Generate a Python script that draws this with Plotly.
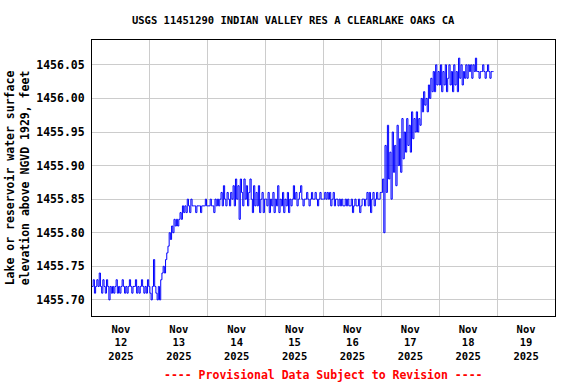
import pandas as pd
import plotly.graph_objects as go

# Gage height (lake elevation, ft above NGVD 1929), 30-minute readings, per day
nov12 = [1455.72, 1455.73, 1455.71, 1455.72, 1455.73, 1455.72, 1455.74, 1455.72, 1455.71, 1455.73, 1455.72, 1455.71,
         1455.73, 1455.72, 1455.70, 1455.72, 1455.71, 1455.72, 1455.71, 1455.72, 1455.73, 1455.71, 1455.72, 1455.71,
         1455.72, 1455.73, 1455.72, 1455.71, 1455.72, 1455.71, 1455.72, 1455.73, 1455.72, 1455.71, 1455.72, 1455.72,
         1455.73, 1455.71, 1455.72, 1455.71, 1455.72, 1455.73, 1455.72, 1455.71, 1455.72, 1455.71, 1455.73, 1455.72]
nov13 = [1455.71, 1455.70, 1455.72, 1455.76, 1455.72, 1455.71, 1455.70, 1455.72, 1455.70, 1455.73, 1455.74, 1455.75,
         1455.74, 1455.76, 1455.77, 1455.78, 1455.80, 1455.79, 1455.81, 1455.80, 1455.82, 1455.81, 1455.82, 1455.81,
         1455.82, 1455.83, 1455.82, 1455.84, 1455.83, 1455.84, 1455.83, 1455.85, 1455.84, 1455.83, 1455.85, 1455.84,
         1455.84, 1455.84, 1455.83, 1455.84, 1455.84, 1455.84, 1455.83, 1455.84, 1455.84, 1455.84, 1455.85, 1455.84]
nov14 = [1455.84, 1455.84, 1455.85, 1455.84, 1455.84, 1455.83, 1455.85, 1455.84, 1455.85, 1455.84, 1455.85, 1455.86,
         1455.84, 1455.87, 1455.85, 1455.84, 1455.86, 1455.85, 1455.84, 1455.86, 1455.85, 1455.87, 1455.84, 1455.88,
         1455.85, 1455.87, 1455.82, 1455.88, 1455.86, 1455.84, 1455.88, 1455.85, 1455.87, 1455.84, 1455.86, 1455.88,
         1455.85, 1455.83, 1455.87, 1455.84, 1455.86, 1455.84, 1455.87, 1455.83, 1455.85, 1455.86, 1455.83, 1455.85]
nov15 = [1455.85, 1455.84, 1455.86, 1455.83, 1455.85, 1455.84, 1455.86, 1455.83, 1455.85, 1455.84, 1455.87, 1455.83,
         1455.85, 1455.84, 1455.86, 1455.83, 1455.85, 1455.84, 1455.86, 1455.83, 1455.85, 1455.84, 1455.85, 1455.87,
         1455.85, 1455.86, 1455.84, 1455.85, 1455.86, 1455.87, 1455.85, 1455.84, 1455.85, 1455.85, 1455.86, 1455.85,
         1455.84, 1455.85, 1455.86, 1455.85, 1455.85, 1455.86, 1455.85, 1455.84, 1455.85, 1455.86, 1455.85, 1455.85]
nov16 = [1455.85, 1455.86, 1455.85, 1455.86, 1455.85, 1455.86, 1455.84, 1455.85, 1455.86, 1455.84, 1455.85, 1455.85,
         1455.84, 1455.85, 1455.84, 1455.85, 1455.84, 1455.84, 1455.85, 1455.84, 1455.85, 1455.84, 1455.84, 1455.85,
         1455.83, 1455.84, 1455.85, 1455.84, 1455.84, 1455.85, 1455.83, 1455.84, 1455.85, 1455.85, 1455.84, 1455.85,
         1455.86, 1455.84, 1455.86, 1455.83, 1455.85, 1455.86, 1455.84, 1455.85, 1455.86, 1455.85, 1455.85, 1455.86]
nov17 = [1455.86, 1455.88, 1455.80, 1455.93, 1455.86, 1455.96, 1455.88, 1455.92, 1455.85, 1455.95, 1455.89, 1455.93,
         1455.87, 1455.96, 1455.90, 1455.94, 1455.89, 1455.97, 1455.91, 1455.95, 1455.92, 1455.97, 1455.93, 1455.96,
         1455.92, 1455.98, 1455.94, 1455.97, 1455.95, 1455.98, 1455.95, 1455.97, 1455.96, 1456.00, 1455.98, 1456.01,
         1455.99, 1456.00, 1455.98, 1456.02, 1456.00, 1456.03, 1456.01, 1456.04, 1456.01, 1456.05, 1456.02, 1456.04]
nov18 = [1456.02, 1456.05, 1456.01, 1456.04, 1456.02, 1456.05, 1456.01, 1456.03, 1456.05, 1456.02, 1456.04, 1456.01,
         1456.05, 1456.02, 1456.04, 1456.01, 1456.06, 1456.03, 1456.05, 1456.02, 1456.04, 1456.03, 1456.05, 1456.03,
         1456.05, 1456.04, 1456.05, 1456.03, 1456.05, 1456.04, 1456.06, 1456.04, 1456.04, 1456.03, 1456.04, 1456.04,
         1456.05, 1456.04, 1456.03, 1456.04, 1456.05, 1456.04, 1456.03, 1456.04, 1456.04, 1456.04]

elevation = nov12 + nov13 + nov14 + nov15 + nov16 + nov17 + nov18
times = pd.date_range("2025-11-12 00:00", periods=len(elevation), freq="30min")

day_labels = ["Nov<br>12<br>2025", "Nov<br>13<br>2025", "Nov<br>14<br>2025", "Nov<br>15<br>2025",
              "Nov<br>16<br>2025", "Nov<br>17<br>2025", "Nov<br>18<br>2025", "Nov<br>19<br>2025"]
label_times = pd.date_range("2025-11-12 12:00", periods=8, freq="1D")
y_ticks = [1455.70, 1455.75, 1455.80, 1455.85, 1455.90, 1455.95, 1456.00, 1456.05]

MONO = "DejaVu Sans Mono"

fig = go.Figure()
fig.add_trace(go.Scatter(x=times, y=elevation, mode="lines", line=dict(color="#0000FF", width=1, shape="hv"),
                         showlegend=False, hoverinfo="x+y"))

fig.update_layout(
    width=576, height=384,
    margin=dict(l=92, r=21, t=40, b=68, autoexpand=False),
    paper_bgcolor="white", plot_bgcolor="white",
    title=dict(text="USGS 11451290 INDIAN VALLEY RES A CLEARLAKE OAKS CA",
               x=0.509, xanchor="center", xref="container",
               y=1 - 20 / 384, yanchor="middle", yref="container",
               font=dict(family=MONO, size=10.5, color="black", weight="bold")),
    xaxis=dict(
        automargin=False,
        range=["2025-11-12 00:00", "2025-11-20 00:00"],
        tickmode="array", tickvals=list(label_times), ticktext=day_labels,
        showgrid=False, ticks="", ticklabelstandoff=3,
        tickfont=dict(family=MONO, size=10.5, color="black", weight="bold"),
        showline=True, linecolor="black", linewidth=1, mirror=True,
        minor=dict(tickmode="array",
                   tickvals=list(pd.date_range("2025-11-13", periods=7, freq="1D")),
                   showgrid=True, gridcolor="#cccccc", gridwidth=1, ticks=""),
        zeroline=False,
    ),
    yaxis=dict(
        automargin=False,
        range=[1455.676, 1456.087],
        tickmode="array", tickvals=y_ticks, tickformat=".2f",
        showgrid=True, gridcolor="#cccccc", gridwidth=1, ticks="", ticklabelstandoff=4,
        tickfont=dict(family=MONO, size=11.5, color="black", weight="bold"),
        showline=True, linecolor="black", linewidth=1, mirror=True,
        zeroline=False,
        title=dict(text="Lake or reservoir water surface<br>elevation above NGVD 1929, feet",
                   font=dict(family=MONO, size=11.5, color="black", weight="bold"), standoff=4),
    ),
    annotations=[dict(text="---- Provisional Data Subject to Revision ----",
                      xref="paper", yref="paper", x=0.5, y=-0.2138,
                      xanchor="center", yanchor="middle", showarrow=False,
                      font=dict(family=MONO, size=11.5, color="red", weight="bold"))],
)

fig.write_html("out.html", config={"displayModeBar": False},
               post_script="document.body.style.margin='0';document.body.style.padding='0';")
